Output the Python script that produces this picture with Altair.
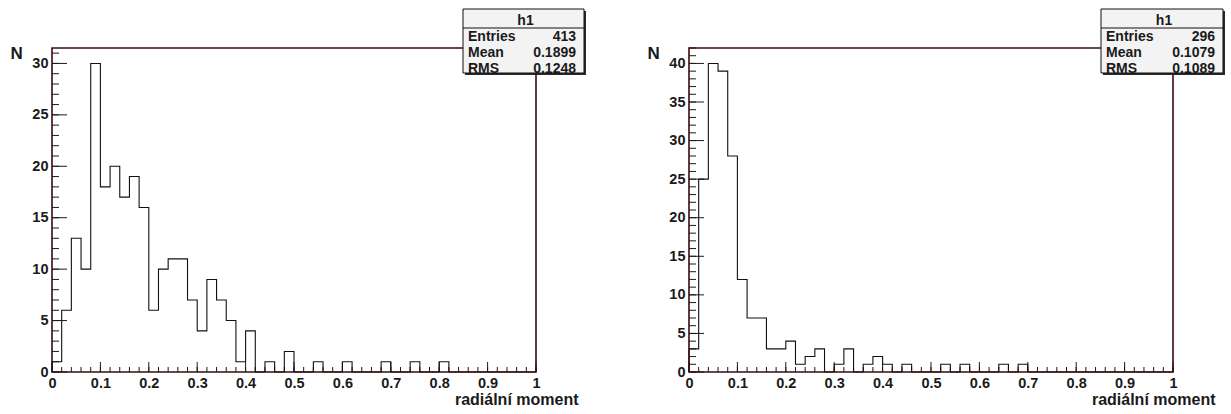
import altair as alt
import pandas as pd

# ---------------- data ----------------
bin_edges = [0.00, 0.02, 0.04, 0.06, 0.08, 0.10, 0.12, 0.14, 0.16, 0.18,
             0.20, 0.22, 0.24, 0.26, 0.28, 0.30, 0.32, 0.34, 0.36, 0.38,
             0.40, 0.42, 0.44, 0.46, 0.48, 0.50, 0.52, 0.54, 0.56, 0.58,
             0.60, 0.62, 0.64, 0.66, 0.68, 0.70, 0.72, 0.74, 0.76, 0.78,
             0.80, 0.82, 0.84, 0.86, 0.88, 0.90, 0.92, 0.94, 0.96, 0.98, 1.00]

left_counts = [1, 6, 13, 10, 30, 18, 20, 17, 19, 16,
               6, 10, 11, 11, 7, 4, 9, 7, 5, 1,
               4, 0, 1, 0, 2, 0, 0, 1, 0, 0,
               1, 0, 0, 0, 1, 0, 0, 1, 0, 0,
               1, 0, 0, 0, 0, 0, 0, 0, 0, 0]

right_counts = [3, 25, 40, 39, 28, 12, 7, 7, 3, 3,
                4, 1, 2, 3, 0, 1, 3, 0, 1, 2,
                1, 0, 1, 0, 0, 0, 1, 0, 1, 0,
                0, 0, 1, 0, 1, 0, 0, 0, 0, 0,
                0, 0, 0, 0, 0, 0, 0, 0, 0, 0]

x_labels = [0, 0.1, 0.2, 0.3, 0.4, 0.5, 0.6, 0.7, 0.8, 0.9, 1]
left_y_labels = [0, 5, 10, 15, 20, 25, 30]
right_y_labels = [0, 5, 10, 15, 20, 25, 30, 35, 40]
left_ymax = 31.5
right_ymax = 42

left_stats = [("Entries", "413"), ("Mean", "0.1899"), ("RMS", "0.1248")]
right_stats = [("Entries", "296"), ("Mean", "0.1079"), ("RMS", "0.1089")]
hist_name = "h1"
x_title = "radiální moment"
y_title = "N"

# ---------------- style ----------------
W, H = 484, 324
FONT = "Liberation Sans"
TXT = "#1a1a1a"
FRAME = "#3a0c0c"
ONE = pd.DataFrame({"a": [0]})
LBL = 14.5
BOXF = 14


def panel(counts, ymax, ylabels, stats, bx1, bx2):
    rows = [{"i": 0, "x": bin_edges[0], "n": 0}]
    for k, c in enumerate(counts):
        rows.append({"i": k + 1, "x": bin_edges[k], "n": c})
    rows.append({"i": len(counts) + 1, "x": bin_edges[-1], "n": counts[-1]})
    rows.append({"i": len(counts) + 2, "x": bin_edges[-1], "n": 0})
    hist = pd.DataFrame(rows)

    xs = alt.Scale(domain=[0, 1], nice=False, zero=False)
    ys = alt.Scale(domain=[0, ymax], nice=False, zero=False)
    xaxis = alt.Axis(values=x_labels, format=".1~f", title=x_title,
                     grid=False, domain=False, ticks=False, tickSize=0,
                     labelFont=FONT, labelFontWeight="bold", labelFontSize=LBL,
                     labelColor=TXT, labelPadding=4, labelFlush=False,
                     titleFont=FONT, titleFontWeight="bold", titleFontSize=16,
                     titleColor=TXT, titleAlign="right", titleBaseline="alphabetic",
                     titleAnchor="end", titleX=W + 42, titleY=32)
    yaxis = alt.Axis(values=ylabels, title=y_title,
                     grid=False, domain=False, ticks=False, tickSize=0,
                     labelFont=FONT, labelFontWeight="bold", labelFontSize=LBL,
                     labelColor=TXT, labelPadding=4, labelFlush=False,
                     labelBaseline="middle",
                     titleFont=FONT, titleFontWeight="bold", titleFontSize=17,
                     titleColor=TXT, titleAngle=0, titleAlign="left",
                     titleBaseline="alphabetic", titleX=-42, titleY=10)

    def X():
        return alt.X("x:Q", scale=xs, axis=xaxis)

    def Y():
        return alt.Y("n:Q", scale=ys, axis=yaxis)

    xminor = pd.DataFrame({"x": bin_edges})
    xmajor = pd.DataFrame({"x": x_labels})
    yminor = pd.DataFrame({"n": list(range(0, int(ymax) + 1))})
    ymajor = pd.DataFrame({"n": ylabels})

    layers = [
        alt.Chart(xminor).mark_rule(color=TXT, strokeWidth=1).encode(
            x=X(), y=alt.value(H), y2=alt.value(H - 5)),
        alt.Chart(xmajor).mark_rule(color=TXT, strokeWidth=1).encode(
            x=X(), y=alt.value(H), y2=alt.value(H - 10)),
        alt.Chart(yminor).mark_rule(color=TXT, strokeWidth=1).encode(
            y=Y(), x=alt.value(0), x2=alt.value(7)),
        alt.Chart(ymajor).mark_rule(color=TXT, strokeWidth=1).encode(
            y=Y(), x=alt.value(0), x2=alt.value(15)),
        alt.Chart(hist).mark_line(interpolate="step-after", color="#111111",
                                  strokeWidth=1.1).encode(
            x=X(), y=Y(), order=alt.Order("i:Q")),
        alt.Chart(ONE).mark_rect(fillOpacity=0, stroke=FRAME, strokeWidth=1.6).encode(
            x=alt.value(0), x2=alt.value(W), y=alt.value(0), y2=alt.value(H)),
        # stats box shadow + box
        alt.Chart(ONE).mark_rect(color="#2a2a2a").encode(
            x=alt.value(bx1 + 2), x2=alt.value(bx2 + 2),
            y=alt.value(-37), y2=alt.value(27)),
        alt.Chart(ONE).mark_rect(fill="#f3f3f3", stroke="#111111", strokeWidth=1).encode(
            x=alt.value(bx1), x2=alt.value(bx2),
            y=alt.value(-39), y2=alt.value(25)),
        alt.Chart(ONE).mark_rule(color="#111111", strokeWidth=1).encode(
            x=alt.value(bx1), x2=alt.value(bx2), y=alt.value(-20)),
        alt.Chart(ONE).mark_text(align="center", baseline="alphabetic", font=FONT,
                                 fontWeight="bold", fontSize=BOXF, color=TXT).encode(
            x=alt.value((bx1 + bx2) / 2 + 2), y=alt.value(-23.5),
            text=alt.value(hist_name)),
    ]
    for r, (lab, val) in enumerate(stats):
        yb = -7.5 + 16 * r
        layers.append(alt.Chart(ONE).mark_text(
            align="left", baseline="alphabetic", font=FONT, fontWeight="bold",
            fontSize=BOXF, color=TXT).encode(
            x=alt.value(bx1 + 5), y=alt.value(yb), text=alt.value(lab)))
        layers.append(alt.Chart(ONE).mark_text(
            align="right", baseline="alphabetic", font=FONT, fontWeight="bold",
            fontSize=BOXF, color=TXT).encode(
            x=alt.value(bx2 - 8), y=alt.value(yb), text=alt.value(val)))

    return alt.layer(*layers).properties(width=W, height=H)


left = panel(left_counts, left_ymax, left_y_labels, left_stats, 411, 532)
right = panel(right_counts, right_ymax, right_y_labels, right_stats, 412, 534)

chart = alt.hconcat(left, right, spacing=153, bounds="flush").properties(
    padding={"left": 10, "top": 8, "right": 4, "bottom": 6},
    background="white",
).configure_view(strokeWidth=0)

chart.save("out.html", embed_options={"renderer": "svg", "actions": False})
